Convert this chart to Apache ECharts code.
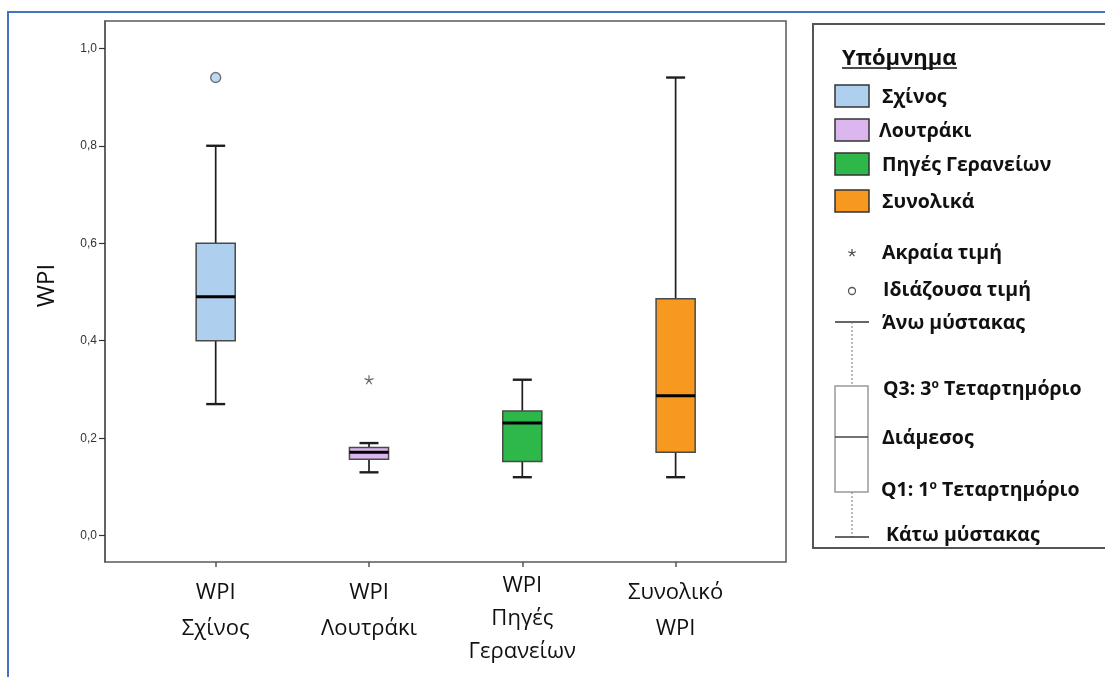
<!DOCTYPE html>
<html>
<head>
<meta charset="utf-8">
<script src="https://cdn.jsdelivr.net/npm/echarts@6/dist/echarts.min.js"></script>
<style>
  html, body { margin: 0; padding: 0; background: #ffffff; }
  #chart { width: 1105px; height: 677px; }
</style>
</head>
<body>
<div id="chart"></div>
<script>
// Category labels along the x axis
const categories = ['WPI\nΣχίνος', 'WPI\nΛουτράκι', 'WPI\nΠηγές\nΓερανείων', 'Συνολικό\nWPI'];
// Legend entries and box fill colours
const legendNames = ['Σχίνος', 'Λουτράκι', 'Πηγές Γερανείων', 'Συνολικά'];
const boxColors = ['#AECFEE', '#DCB7EF', '#2EB84A', '#F7991E'];
// Box statistics per category
const lowWhisker = [0.27, 0.13, 0.12, 0.12];
const q1Values = [0.40, 0.157, 0.152, 0.171];
const medians = [0.49, 0.171, 0.231, 0.287];
const q3Values = [0.60, 0.181, 0.256, 0.486];
const highWhisker = [0.80, 0.19, 0.32, 0.94];
// Individual points: outliers (circle) and extreme values (star)
const outliers = [[0, 0.94]];
const extremes = [[1, 0.32]];
// Y axis tick values
const yTicks = [0, 0.2, 0.4, 0.6, 0.8, 1.0];

const FONT = '"Open Sans", "DejaVu Sans", sans-serif';

const boxData = categories.map((c, i) => [i, lowWhisker[i], q1Values[i], medians[i], q3Values[i], highWhisker[i]]);

function renderBox(params, api) {
  const i = api.value(0);
  const x = api.coord([i, 0])[0];
  const yLo = api.coord([i, api.value(1)])[1];
  const yQ1 = api.coord([i, api.value(2)])[1];
  const yMed = api.coord([i, api.value(3)])[1];
  const yQ3 = api.coord([i, api.value(4)])[1];
  const yHi = api.coord([i, api.value(5)])[1];
  const bw = api.size([0.255, 0])[0];
  const cw = api.size([0.124, 0])[0];
  const whisker = { stroke: '#1e1e1e', lineWidth: 1.7 };
  const cap = { stroke: '#1e1e1e', lineWidth: 2.4 };
  return {
    type: 'group',
    children: [
      { type: 'line', shape: { x1: x, y1: yHi, x2: x, y2: yQ3 }, style: whisker },
      { type: 'line', shape: { x1: x, y1: yQ1, x2: x, y2: yLo }, style: whisker },
      { type: 'line', shape: { x1: x - cw / 2, y1: yHi, x2: x + cw / 2, y2: yHi }, style: cap },
      { type: 'line', shape: { x1: x - cw / 2, y1: yLo, x2: x + cw / 2, y2: yLo }, style: cap },
      { type: 'rect', shape: { x: x - bw / 2, y: yQ3, width: bw, height: yQ1 - yQ3 },
        style: { fill: boxColors[i], stroke: '#4a4a4a', lineWidth: 1.5 } },
      { type: 'line', shape: { x1: x - bw / 2, y1: yMed, x2: x + bw / 2, y2: yMed },
        style: { stroke: '#000', lineWidth: 3 } }
    ]
  };
}

// Legend panel graphics
const legendGraphics = [];
legendGraphics.push({ type: 'rect', z: 1, shape: { x: 813, y: 24, width: 400, height: 524 },
  style: { fill: '#ffffff', stroke: '#555555', lineWidth: 2 } });
legendGraphics.push({ type: 'text', z: 2, x: 842, y: 59,
  style: { text: 'Υπόμνημα', font: 'bold 22px ' + FONT, fill: '#111', verticalAlign: 'middle', align: 'left' } });
legendGraphics.push({ type: 'line', z: 2, shape: { x1: 842, y1: 68, x2: 957, y2: 68 },
  style: { stroke: '#111', lineWidth: 1.5 } });
const swatchTop = [85, 119, 153, 190];
const labelY = [97, 131, 165, 202];
legendNames.forEach((name, i) => {
  legendGraphics.push({ type: 'rect', z: 2, shape: { x: 835, y: swatchTop[i], width: 34, height: 22 },
    style: { fill: boxColors[i], stroke: '#333', lineWidth: 1.5 } });
  legendGraphics.push({ type: 'text', z: 2, x: i === 1 ? 879 : 882, y: labelY[i],
    style: { text: name, font: 'bold 19.5px ' + FONT, fill: '#111', verticalAlign: 'middle', align: 'left' } });
});
// star marker (five short strokes from a centre point)
const starArms = [[0, -4], [3.8, -1.2], [2.35, 3.2], [-2.35, 3.2], [-3.8, -1.2]];
starArms.forEach(a => {
  legendGraphics.push({ type: 'line', z: 2, shape: { x1: 852, y1: 253, x2: 852 + a[0], y2: 253 + a[1] },
    style: { stroke: '#444', lineWidth: 1.2 } });
});
legendGraphics.push({ type: 'text', z: 2, x: 882, y: 253,
  style: { text: 'Ακραία τιμή', font: 'bold 19.5px ' + FONT, fill: '#111', verticalAlign: 'middle' } });
legendGraphics.push({ type: 'circle', z: 2, shape: { cx: 852, cy: 291, r: 3.5 },
  style: { fill: '#fff', stroke: '#555', lineWidth: 1.3 } });
legendGraphics.push({ type: 'text', z: 2, x: 883, y: 290,
  style: { text: 'Ιδιάζουσα τιμή', font: 'bold 19.5px ' + FONT, fill: '#111', verticalAlign: 'middle' } });
// box-and-whisker key
legendGraphics.push({ type: 'line', z: 2, shape: { x1: 835, y1: 322, x2: 869, y2: 322 }, style: { stroke: '#333', lineWidth: 1.5 } });
legendGraphics.push({ type: 'line', z: 2, shape: { x1: 852, y1: 322, x2: 852, y2: 386 }, style: { stroke: '#777', lineWidth: 1, lineDash: [2, 2] } });
legendGraphics.push({ type: 'rect', z: 2, shape: { x: 835, y: 386, width: 33, height: 106 }, style: { fill: '#fff', stroke: '#999', lineWidth: 1.5 } });
legendGraphics.push({ type: 'line', z: 2, shape: { x1: 835, y1: 437, x2: 868, y2: 437 }, style: { stroke: '#444', lineWidth: 1.5 } });
legendGraphics.push({ type: 'line', z: 2, shape: { x1: 852, y1: 492, x2: 852, y2: 537 }, style: { stroke: '#777', lineWidth: 1, lineDash: [2, 2] } });
legendGraphics.push({ type: 'line', z: 2, shape: { x1: 835, y1: 537, x2: 869, y2: 537 }, style: { stroke: '#333', lineWidth: 1.5 } });
const keyText = [
  { t: 'Άνω μύστακας', x: 882, y: 323 },
  { t: 'Q3: 3{s|ο} Τεταρτημόριο', x: 883, y: 389 },
  { t: 'Διάμεσος', x: 882, y: 438 },
  { t: 'Q1: 1{s|ο} Τεταρτημόριο', x: 881, y: 490 },
  { t: 'Κάτω μύστακας', x: 886, y: 535 }
];
keyText.forEach(k => {
  legendGraphics.push({ type: 'text', z: 2, x: k.x, y: k.y,
    style: { text: k.t, font: 'bold 19.5px ' + FONT, fill: '#111', verticalAlign: 'middle',
      rich: { s: { fontSize: 12, fontWeight: 'bold', fontFamily: FONT, fill: '#111', verticalAlign: 'top' } } } });
});

const xLabelStyle = { fontSize: 22, color: '#111', fontFamily: FONT };

const option = {
  animation: false,
  backgroundColor: '#ffffff',
  graphic: [
    { type: 'rect', z: 0, shape: { x: 8, y: 12, width: 1300, height: 900 },
      style: { fill: 'none', stroke: '#4472C4', lineWidth: 2 } },
    ...legendGraphics
  ],
  grid: { left: 105, top: 21, width: 681, height: 541, show: true,
    borderColor: '#595959', borderWidth: 1.5, backgroundColor: 'transparent' },
  xAxis: [
    { type: 'value', min: -0.722, max: 3.72, position: 'bottom',
      axisLine: { show: false, onZero: false }, splitLine: { show: false },
      axisTick: { show: true, customValues: [0, 1, 2, 3], length: 5, lineStyle: { color: '#555', width: 1.5 } },
      axisLabel: Object.assign({ customValues: [0, 1, 3], formatter: v => categories[Math.round(v)],
        lineHeight: 36, margin: 13 }, xLabelStyle) },
    { type: 'value', min: -0.722, max: 3.72, position: 'bottom',
      axisLine: { show: false, onZero: false }, splitLine: { show: false }, axisTick: { show: false },
      axisLabel: Object.assign({ customValues: [2], formatter: v => categories[Math.round(v)],
        lineHeight: 33, margin: 7 }, xLabelStyle) }
  ],
  yAxis: {
    type: 'value', min: -0.054, max: 1.056, position: 'left',
    name: 'WPI', nameLocation: 'middle', nameGap: 46,
    nameTextStyle: { fontSize: 24, fontFamily: FONT, color: '#111', padding: [0, 0, 0, 12] },
    axisLine: { show: true, onZero: false, lineStyle: { color: '#595959', width: 1.5 } },
    axisTick: { show: true, length: 6, customValues: yTicks, lineStyle: { color: '#333', width: 1.2 } },
    axisLabel: { customValues: yTicks, formatter: v => v.toFixed(1).replace('.', ','),
      fontSize: 12, color: '#333', margin: 8, fontFamily: '"Liberation Sans", Arial, sans-serif' },
    splitLine: { show: false }
  },
  series: [
    { type: 'custom', name: 'box', renderItem: renderBox, data: boxData,
      encode: { x: 0, y: [1, 2, 3, 4, 5] }, z: 3 },
    { type: 'scatter', name: 'outlier', data: outliers, symbol: 'circle', symbolSize: 10, z: 4,
      itemStyle: { color: p => boxColors[p.data[0]], borderColor: '#555', borderWidth: 1.4 } },
    { type: 'scatter', name: 'extreme', data: extremes, z: 4, symbolSize: 9,
      symbol: 'path://M0,0L0,-5M0,0L4.76,-1.55M0,0L2.94,4.05M0,0L-2.94,4.05M0,0L-4.76,-1.55',
      itemStyle: { color: '#444', borderColor: '#444', borderWidth: 1.2 } }
  ]
};

const chart = echarts.init(document.getElementById('chart'), null, { renderer: 'canvas' });
chart.setOption(option);
</script>
</body>
</html>
